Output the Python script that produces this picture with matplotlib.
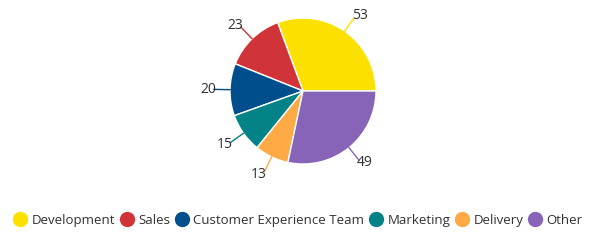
import numpy as np
import matplotlib
matplotlib.use("Agg")
import matplotlib.pyplot as plt
from matplotlib.lines import Line2D

categories = ["Development", "Sales", "Customer Experience Team", "Marketing", "Delivery", "Other"]
values = [53, 23, 20, 15, 13, 49]
colors = ["#FCE100", "#D13438", "#004E8C", "#038387", "#FFAA44", "#8764B8"]

plt.rcParams['font.family'] = ['Open Sans', 'DejaVu Sans']
text_color = "#323130"

fig = plt.figure(figsize=(6, 2.4), dpi=100)
R = 73  # px radius
cx, cy = 303, 91
ax = fig.add_axes([(cx - R) / 600, 1 - (cy + R) / 240, 2 * R / 600, 2 * R / 240])
wedges, _ = ax.pie(values, colors=colors, startangle=0, counterclock=True,
                   radius=1.0, wedgeprops=dict(edgecolor="white", linewidth=1.0))
ax.set_xlim(-1, 1)
ax.set_ylim(-1, 1)
ax.set_aspect('auto')
ax.axis('off')

px = 1.0 / R
for w, v, c in zip(wedges, values, colors):
    mid = np.deg2rad((w.theta1 + w.theta2) / 2)
    ca, sa = np.cos(mid), np.sin(mid)
    ex, ey = ca * 1.22, sa * 1.22
    ax.plot([ca * 1.0, ex], [sa * 1.0, ey], color=c, lw=1.0, clip_on=False)
    tx = ex + np.sign(ca) * 6 * px
    ty = ey + sa * 3 * px
    ax.text(tx, ty, str(v), ha='center', va='center', fontsize=10,
            color=text_color, clip_on=False)

handles = [Line2D([0], [0], marker='o', linestyle='none', markersize=10,
                  markerfacecolor=c, markeredgecolor=c) for c in colors]
fig.legend(handles, categories, loc='center', bbox_to_anchor=(0.497, 0.083), ncol=6,
           frameon=False, fontsize=9.5, handletextpad=0.35, columnspacing=0.4,
           handlelength=1.0, labelcolor=text_color, borderaxespad=0)

fig.savefig("out.png", dpi=100, facecolor="white")
